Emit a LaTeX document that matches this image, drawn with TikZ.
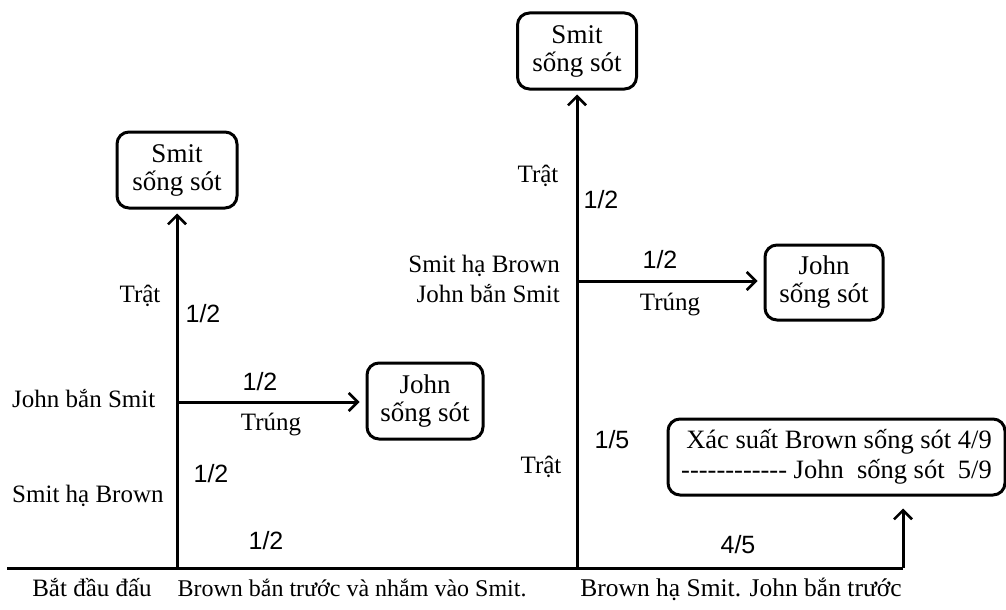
\documentclass[tikz,border=0pt]{standalone}
\usepackage{fontspec}
\setmainfont{Liberation Serif}
\newfontfamily\fracfont{Liberation Sans}
\usetikzlibrary{arrows.meta}
\newcommand\hy{-\kern0pt}
\tikzset{
  wire/.style={line width=3pt},
  arr/.style={wire, -{Straight Barb[length=9pt,width=18pt,line width=2.5pt]}},
  box/.style={draw, line width=3pt, rounded corners=12pt, align=center, inner sep=0pt,
    font=\fontsize{27}{28}\selectfont},
  lbl/.style={font=\fontsize{25}{30}\selectfont, inner sep=0pt, anchor=base},
  frac/.style={font=\fracfont\fontsize{25}{28}\selectfont, inner sep=0pt, anchor=base},
}
\begin{document}
\begin{tikzpicture}[x=1pt,y=-1pt]
\useasboundingbox (0,0) rectangle (1006,610);
% boxes
\node[box, minimum width=120pt, minimum height=76pt] (smit1) at (177,170) {Smit\\sống sót};
\node[box, minimum width=116pt, minimum height=76pt] (john1) at (425,401) {John\\sống sót};
\node[box, minimum width=119pt, minimum height=76pt] (smit2) at (577,51) {Smit\\sống sót};
\node[box, minimum width=118pt, minimum height=75pt] (john2) at (824,282.5) {John\\sống sót};
\node[box, minimum width=337pt, minimum height=76pt, align=right, font=\fontsize{26.5}{30}\selectfont] (res) at (836.5,457)
  {Xác suất Brown sống sót 4/9\\\hy\hy\hy\hy\hy\hy\hy\hy\hy\hy\hy\hy{} John\ \ sống sót\ \ 5/9};
% coordinates
\coordinate (start) at (7,568);
\coordinate (b1) at (177,568);
\coordinate (b2) at (577,568);
\coordinate (corner) at (903,568);
\coordinate (j1) at (177,402);
\coordinate (j2) at (577,281);
% connectors
\draw[wire] (start) -- (corner);
\draw[arr, shorten >=12pt] (corner) -- (corner |- res.south);
\draw[arr, shorten >=4pt] (b1) -- (smit1.south);
\draw[arr, shorten >=4pt] (b2) -- (smit2.south);
\draw[arr, shorten >=6pt] (j1) -- (j1 -| john1.west);
\draw[arr, shorten >=6pt] (j2) -- (j2 -| john2.west);
% left labels
\node[lbl] (t1) at (140,302) {Trật};
\node[frac] (f1) at (203,322) {1/2};
\node[lbl, anchor=base west] (jb1) at (12,407) {John bắn Smit};
\node[frac] (f2) at (260,390) {1/2};
\node[lbl] (tr1) at (271,430) {Trúng};
\node[frac] (f3) at (211,482) {1/2};
\node[lbl, anchor=base west] (sh1) at (12,502) {Smit hạ Brown};
\node[frac] (f4) at (266,549) {1/2};
% right labels
\node[lbl] (t2) at (538,182) {Trật};
\node[frac] (f5) at (601,208) {1/2};
\node[lbl, anchor=base east] (sh2a) at (560,272) {Smit hạ Brown};
\node[lbl, anchor=base east] (sh2b) at (560,302) {John bắn Smit};
\node[frac] (f6) at (660,268) {1/2};
\node[lbl] (tr2) at (670,310) {Trúng};
\node[frac] (f7) at (612,448) {1/5};
\node[lbl] (t3) at (541,473) {Trật};
\node[frac] (f8) at (738,553) {4/5};
% bottom labels
\node[lbl] (s0) at (92,596) {Bắt đầu đấu};
\node[lbl, font=\fontsize{24}{28}\selectfont] (s1) at (352,596) {Brown bắn trước và nhắm vào Smit.};
\node[lbl, font=\fontsize{25.5}{28}\selectfont] (s2) at (741,596) {Brown hạ Smit. John bắn trước};
\end{tikzpicture}
\end{document}
